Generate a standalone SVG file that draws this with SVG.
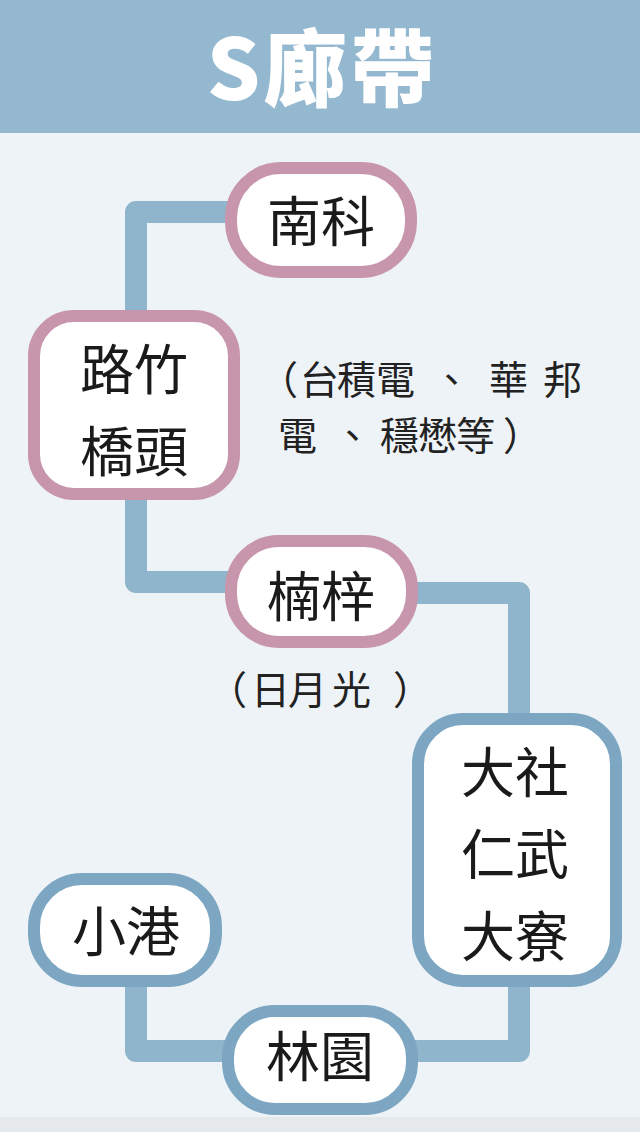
<svg xmlns="http://www.w3.org/2000/svg" width="640" height="1132" viewBox="0 0 640 1132">
<style>
.bg{fill:#eef3f7}
.hdr{fill:#93b8cf}
.title{font-family:"Noto Sans CJK TC","Noto Sans CJK SC",sans-serif;font-weight:900;font-size:84px;fill:#ffffff;text-anchor:middle;letter-spacing:3px}
.conn{fill:none;stroke:#8fb5cc;stroke-width:22;stroke-linejoin:round}
.pink{fill:#ffffff;stroke:#c795ac;stroke-width:12}
.blue{fill:#ffffff;stroke:#7ca6c2;stroke-width:12}
.lbl{font-family:"Noto Sans CJK TC","Noto Sans CJK SC",sans-serif;font-size:54px;fill:#1a1a1a;text-anchor:middle}
.note{font-family:"Noto Sans CJK TC","Noto Sans CJK SC",sans-serif;font-size:39px;fill:#222222}
</style>
<rect class="bg" x="0" y="0" width="640" height="1132"/>
<rect x="0" y="1117" width="640" height="15" fill="#e5e9ec"/>
<rect class="hdr" x="0" y="0" width="640" height="133"/>
<text class="title" x="322" y="100">S廊帶</text>
<g id="connectors">
<path class="conn" d="M231 212 H136 V316"/>
<path class="conn" d="M136 494 V582 H231"/>
<path class="conn" d="M412 593 H519 V719"/>
<path class="conn" d="M519 981 V1051 H412"/>
<path class="conn" d="M228 1051 H136 V981"/>
</g>
<g id="node-nanke">
<rect class="pink" x="231" y="168" width="180" height="104" rx="50"/>
<text class="lbl" x="321" y="242">南科</text>
</g>
<g id="node-luzhu">
<rect class="pink" x="34" y="316" width="200" height="178" rx="40"/>
<text class="lbl" x="134" y="390">路竹</text>
<text class="lbl" x="134" y="472">橋頭</text>
</g>
<g id="note-luzhu">
<text class="note" x="259 300 337 376 432 489 543" y="394">（台積電、華邦</text>
<text class="note" x="278 333 380 418 456 503" y="450">電、穩懋等）</text>
</g>
<g id="node-nanzi">
<rect class="pink" x="231" y="541" width="181" height="101" rx="48"/>
<text class="lbl" x="321" y="617">楠梓</text>
</g>
<g id="note-nanzi">
<text class="note" x="208 251 288 332 393" y="704" font-size="38">（日月光）</text>
</g>
<g id="node-dashe">
<rect class="blue" x="418" y="719" width="198" height="262" rx="45"/>
<text class="lbl" x="515" y="793">大社</text>
<text class="lbl" x="515" y="875">仁武</text>
<text class="lbl" x="515" y="957">大寮</text>
</g>
<g id="node-xiaogang">
<rect class="blue" x="34" y="879" width="182" height="102" rx="48"/>
<text class="lbl" x="126" y="952">小港</text>
</g>
<g id="node-linyuan">
<rect class="blue" x="228" y="1011" width="184" height="98" rx="47"/>
<text class="lbl" x="320" y="1077">林園</text>
</g>
</svg>
